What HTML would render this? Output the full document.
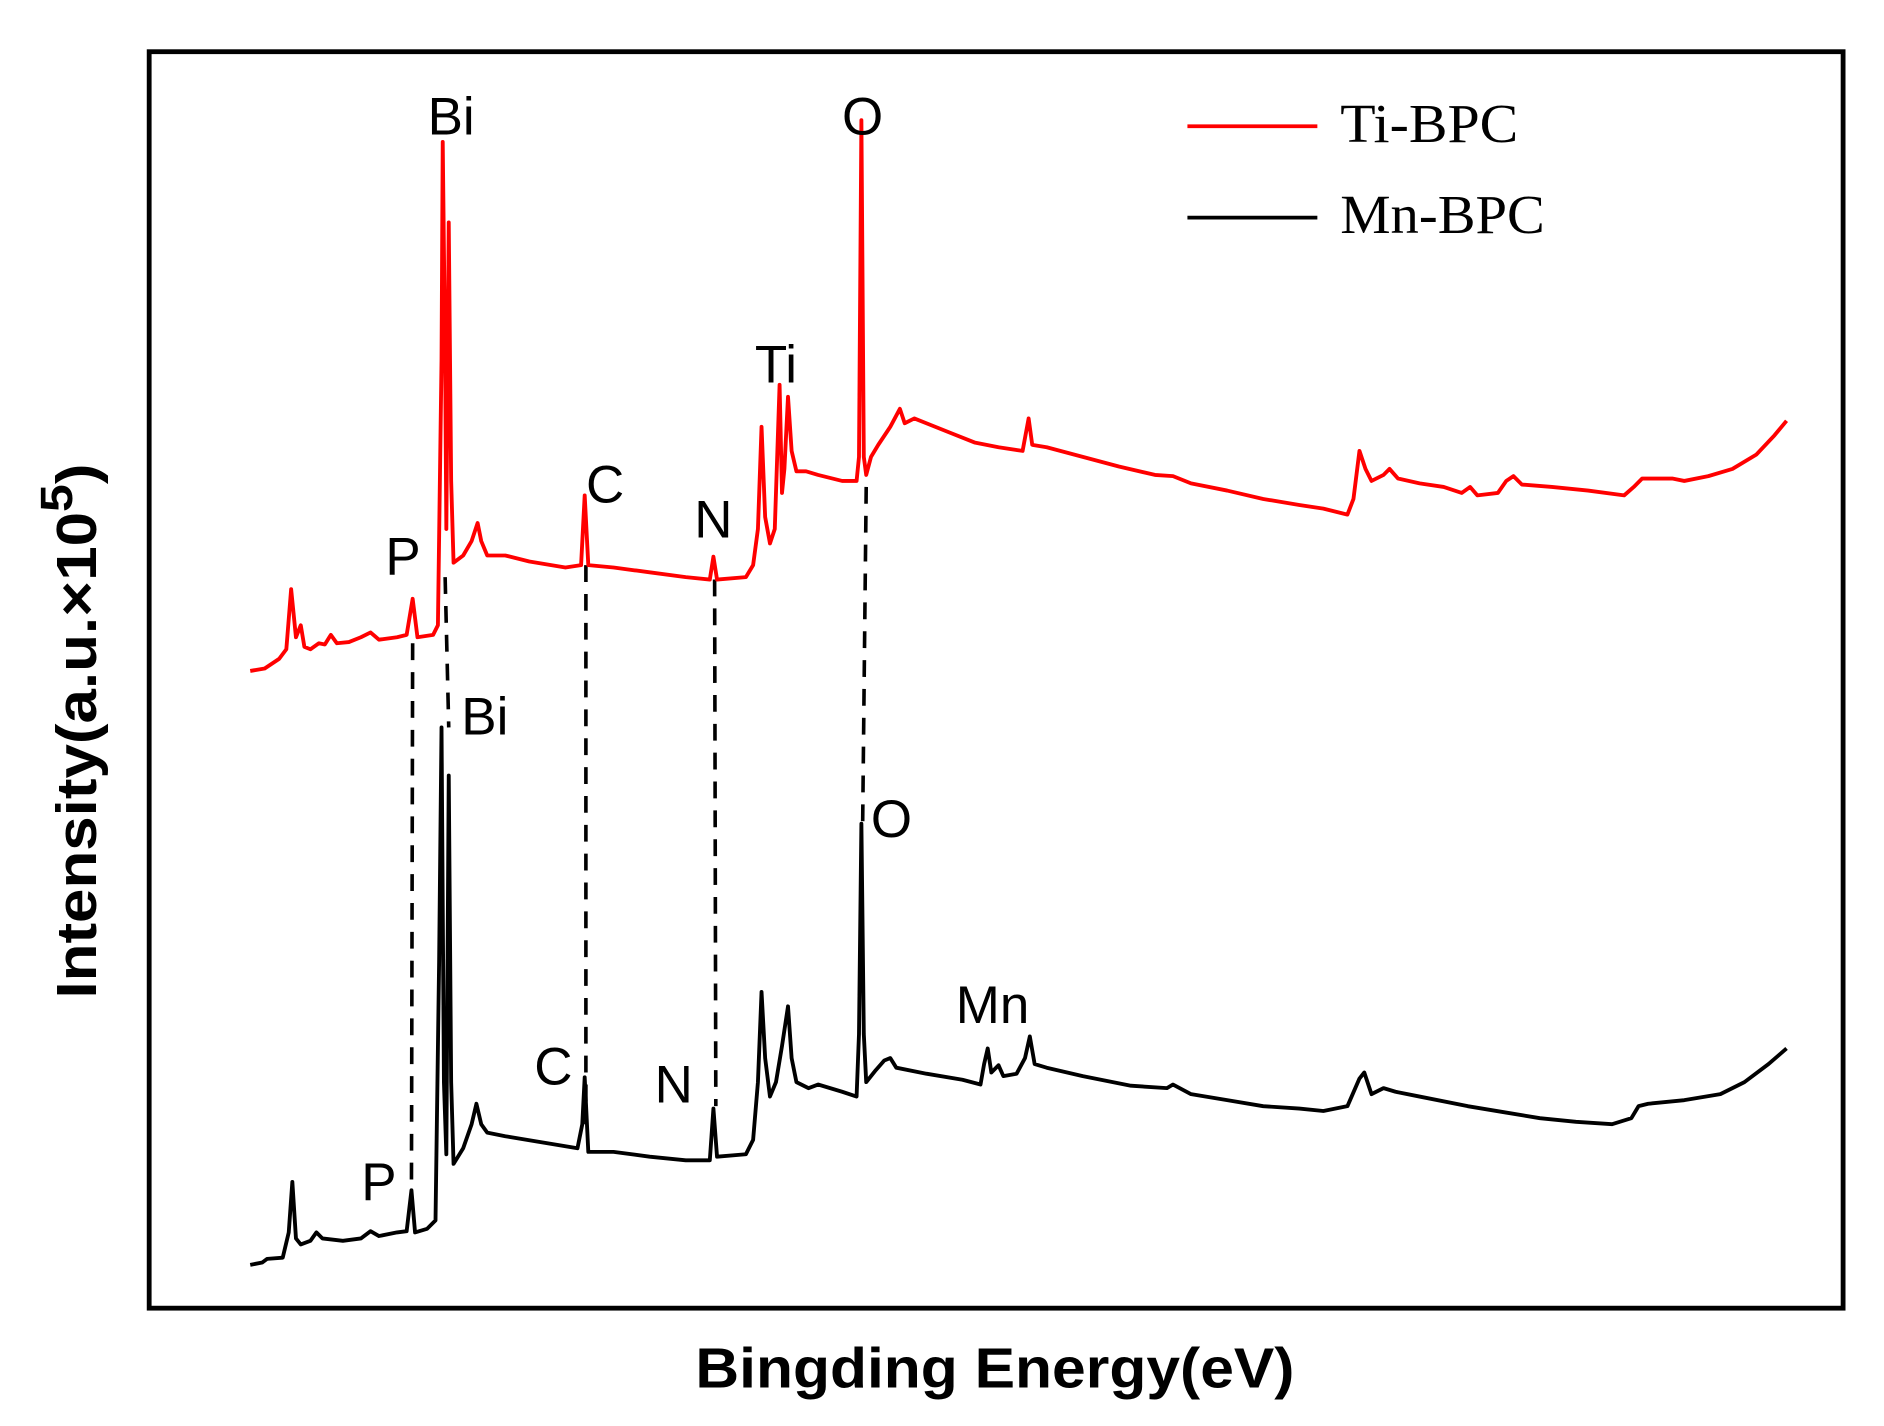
<!DOCTYPE html>
<html><head><meta charset="utf-8"><style>html,body{margin:0;padding:0;background:#fff}svg{display:block}</style></head>
<body>
<svg width="1884" height="1426" viewBox="0 0 1566 1186" preserveAspectRatio="none" xmlns="http://www.w3.org/2000/svg">
<rect x="0" y="0" width="1566" height="1186" fill="#fff"/>
<rect x="124" y="43" width="1408" height="1045" fill="none" stroke="#000" stroke-width="4"/>
<g stroke="#000" stroke-width="3" stroke-dasharray="14,10" fill="none">
<line x1="343" y1="535" x2="342" y2="988"/>
<line x1="370" y1="480" x2="373" y2="605"/>
<line x1="487" y1="470" x2="487" y2="935"/>
<line x1="594" y1="482" x2="595" y2="920"/>
<line x1="720" y1="405" x2="717" y2="690"/>
</g>
<polyline fill="none" stroke="#f00" stroke-width="3.2" stroke-linejoin="round" points="208,558 220,556 232,548 238,540 242,490 246,530 250,520 253,538 258,540 265,535 270,536 275,528 280,535 290,534 300,530 308,526 315,532 330,530 338,528 343,498 347,530 360,528 364,520 367,300 368,118 370,300 371,440 373,185 375,400 377,468 385,462 392,450 397,435 400,450 405,462 420,462 440,467 470,472 483,470 486,412 489,470 510,472 540,476 570,480 590,482 593,463 596,482 620,480 626,470 630,440 633,355 636,430 640,452 644,440 648,320 650,410 652,390 655,330 658,375 662,392 670,392 680,395 700,400 712,400 714,380 716,100 718,380 720,395 724,380 730,370 740,355 748,340 752,352 760,348 770,352 790,360 810,368 830,372 850,375 855,348 858,370 870,372 900,380 930,388 960,395 975,396 990,402 1020,408 1050,415 1080,420 1100,423 1120,428 1125,415 1130,375 1135,390 1140,400 1150,395 1155,390 1162,398 1180,402 1200,405 1215,410 1222,405 1228,412 1245,410 1252,400 1258,396 1265,403 1290,405 1320,408 1350,412 1358,405 1365,398 1380,398 1390,398 1400,400 1420,396 1440,390 1460,378 1475,362 1485,350"/>
<polyline fill="none" stroke="#000" stroke-width="3.2" stroke-linejoin="round" points="208,1052 218,1050 222,1047 235,1046 240,1025 243,983 246,1030 250,1035 258,1032 263,1025 268,1030 285,1032 300,1030 308,1024 315,1028 330,1025 338,1024 342,990 345,1025 355,1022 362,1015 365,800 367,605 369,900 371,960 373,645 375,900 377,968 385,955 392,935 396,918 400,935 405,942 420,945 450,950 480,955 484,935 486,896 489,958 510,958 540,962 570,965 590,965 593,922 596,962 620,960 626,948 630,900 633,825 636,880 640,912 645,900 650,870 655,837 658,880 662,900 672,905 680,902 700,908 712,912 714,860 716,685 718,860 720,900 728,890 735,882 740,880 745,888 770,893 800,898 815,902 818,885 821,872 824,892 830,886 834,895 845,893 852,880 856,862 860,885 870,888 900,895 940,903 970,905 975,902 990,910 1020,915 1050,920 1080,922 1100,924 1120,920 1130,897 1134,892 1140,910 1150,905 1160,908 1180,912 1220,920 1250,925 1280,930 1310,933 1340,935 1356,930 1362,920 1370,918 1400,915 1430,910 1450,900 1470,885 1485,872"/>
<g font-family="Liberation Sans, sans-serif" font-size="44" fill="#000" text-anchor="middle">
<text x="375" y="112">Bi</text>
<text x="717" y="112">O</text>
<text x="645" y="318">Ti</text>
<text x="503" y="418">C</text>
<text x="593" y="447">N</text>
<text x="335" y="478">P</text>
<text x="403" y="611">Bi</text>
<text x="741" y="696">O</text>
<text x="825" y="851">Mn</text>
<text x="460" y="902">C</text>
<text x="560" y="917">N</text>
<text x="315" y="998">P</text>
</g>
<line x1="987" y1="105" x2="1095" y2="105" stroke="#f00" stroke-width="3.2"/>
<line x1="987" y1="181" x2="1095" y2="181" stroke="#000" stroke-width="3.2"/>
<g font-family="Liberation Serif, serif" font-size="46" fill="#000">
<text x="1114" y="118" textLength="148" lengthAdjust="spacingAndGlyphs">Ti-BPC</text>
<text x="1114" y="194" textLength="170" lengthAdjust="spacingAndGlyphs">Mn-BPC</text>
</g>
<text x="827" y="1154" font-family="Liberation Sans, sans-serif" font-weight="bold" font-size="47" text-anchor="middle" textLength="498" lengthAdjust="spacingAndGlyphs">Bingding Energy(eV)</text>
<text transform="translate(80,608) rotate(-90)" font-family="Liberation Sans, sans-serif" font-weight="bold" font-size="47" text-anchor="middle" textLength="445" lengthAdjust="spacingAndGlyphs">Intensity(a.u.×10<tspan dy="-20" font-size="38">5</tspan><tspan dy="20">)</tspan></text>
</svg>
</body></html>
